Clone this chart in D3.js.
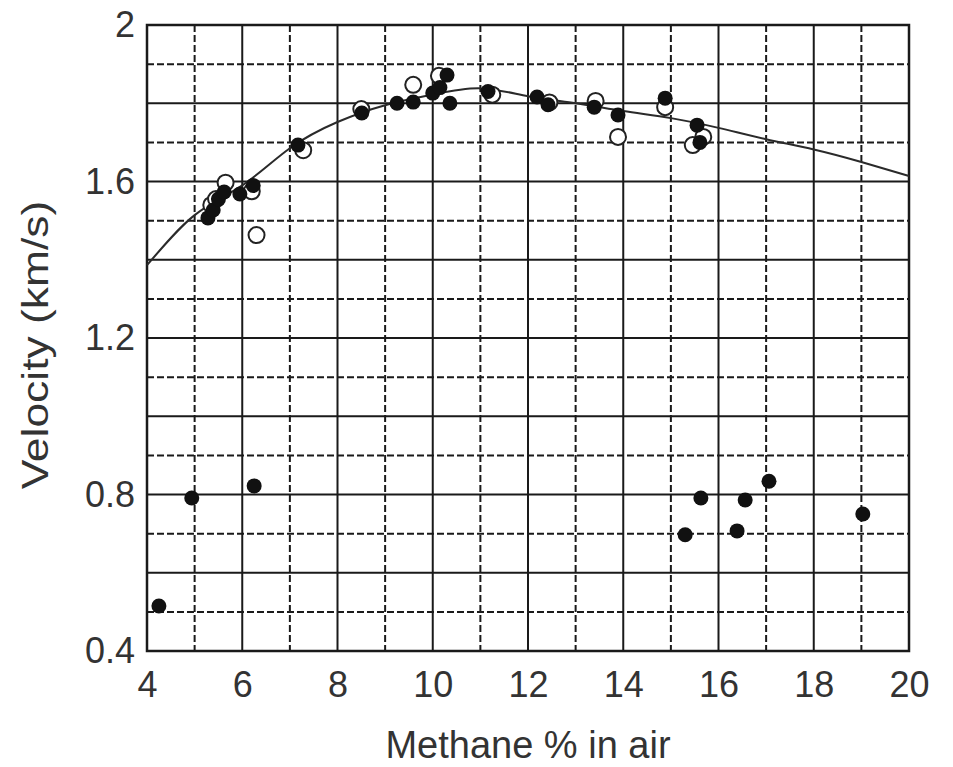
<!DOCTYPE html>
<html>
<head>
<meta charset="utf-8">
<script src="https://cdn.jsdelivr.net/npm/d3@7"></script>
<style>
  body { margin: 0; background: #fff; }
  text { font-family: "Liberation Sans", Arial, sans-serif; fill: #333; }
</style>
</head>
<body>
<div class="canvas"></div>
<script>
// fitted curve
const fitX = [4, 5, 6, 7, 8, 9, 10, 11, 12, 13, 14, 15, 16, 17, 18, 19, 20]
const fitY = [1.386, 1.514, 1.59, 1.685, 1.752, 1.795, 1.822, 1.838, 1.818, 1.80, 1.78, 1.762, 1.737, 1.708, 1.682, 1.65, 1.614]

// filled circles
const solidX = [4.25, 4.94, 6.25, 15.30, 15.63, 16.39, 16.56, 17.06, 19.03,
  5.28, 5.39, 5.5, 5.62, 5.95, 6.23, 7.17, 8.51, 9.25, 9.59, 10.0, 10.15, 10.3, 10.36, 11.16,
  12.19, 12.42, 13.39, 13.89, 14.88, 15.55, 15.61]
const solidY = [0.515, 0.791, 0.822, 0.697, 0.791, 0.707, 0.786, 0.834, 0.750,
  1.507, 1.527, 1.555, 1.573, 1.568, 1.59, 1.693, 1.775, 1.80, 1.803, 1.826, 1.84, 1.872, 1.80, 1.83,
  1.816, 1.796, 1.79, 1.77, 1.813, 1.744, 1.70]

// open circles
const openX = [5.35, 5.45, 5.65, 6.2, 6.3, 7.28, 8.5, 9.59, 10.13, 11.25, 12.45, 13.42, 13.89, 14.88, 15.46, 15.68]
const openY = [1.54, 1.555, 1.597, 1.575, 1.463, 1.68, 1.785, 1.847, 1.87, 1.822, 1.802, 1.806, 1.714, 1.79, 1.693, 1.714]

const xTicks = [4, 6, 8, 10, 12, 14, 16, 18, 20]
const yTicks = [0.4, 0.8, 1.2, 1.6, 2]

const width = 953, height = 767
const margin = {top: 25, right: 44, bottom: 116, left: 147}

const svg = d3.select('.canvas')
  .append('svg')
  .attr('width', width)
  .attr('height', height)

svg.append('rect').attr('width', width).attr('height', height).attr('fill', '#fff')

const graphWidth = width - margin.left - margin.right
const graphHeight = height - margin.top - margin.bottom

const graph = svg.append('g')
  .attr('transform', `translate(${margin.left}, ${margin.top})`)

const x = d3.scaleLinear().domain([4, 20]).range([0, graphWidth])
const y = d3.scaleLinear().domain([0.4, 2]).range([graphHeight, 0])

// grid: even x solid, odd dashed; y every 0.1, 0.2 multiples solid
const gx = d3.range(5, 20)
graph.selectAll('.vgrid')
  .data(gx)
  .enter().append('line')
  .attr('x1', d => x(d)).attr('x2', d => x(d))
  .attr('y1', 0).attr('y2', graphHeight)
  .attr('stroke', '#1a1a1a')
  .attr('stroke-width', 2)
  .attr('stroke-dasharray', d => d % 2 ? '7,3' : null)

const gy = d3.range(5, 20).map(d => d / 10)
graph.selectAll('.hgrid')
  .data(gy)
  .enter().append('line')
  .attr('x1', 0).attr('x2', graphWidth)
  .attr('y1', d => y(d)).attr('y2', d => y(d))
  .attr('stroke', '#1a1a1a')
  .attr('stroke-width', 2)
  .attr('stroke-dasharray', (d, i) => i % 2 === 0 ? '7,3' : null)

// frame
graph.append('rect')
  .attr('width', graphWidth).attr('height', graphHeight)
  .attr('fill', 'none').attr('stroke', '#1a1a1a').attr('stroke-width', 2.5)

// curve
const line = d3.line()
  .x(d => x(d[0])).y(d => y(d[1]))
  .curve(d3.curveNatural)
graph.append('path')
  .datum(d3.zip(fitX, fitY))
  .attr('d', line)
  .attr('fill', 'none')
  .attr('stroke', '#2a2a2a')
  .attr('stroke-width', 2)

// open markers under filled ones
graph.selectAll('.open')
  .data(d3.zip(openX, openY))
  .enter().append('circle')
  .attr('cx', d => x(d[0])).attr('cy', d => y(d[1]))
  .attr('r', 8)
  .attr('fill', '#fff')
  .attr('stroke', '#222')
  .attr('stroke-width', 2)

graph.selectAll('.solid')
  .data(d3.zip(solidX, solidY))
  .enter().append('circle')
  .attr('cx', d => x(d[0])).attr('cy', d => y(d[1]))
  .attr('r', 7.5)
  .attr('fill', '#111')

// axes
const xAxis = d3.axisBottom(x).tickValues(xTicks).tickSize(0).tickPadding(20)
const yAxis = d3.axisLeft(y).tickValues(yTicks).tickSize(0).tickPadding(12)
  .tickFormat(d => d)

const xAxisGroup = graph.append('g')
  .attr('transform', `translate(0, ${graphHeight})`)
  .call(xAxis)
const yAxisGroup = graph.append('g').call(yAxis)

xAxisGroup.select('.domain').remove()
yAxisGroup.select('.domain').remove()
svg.selectAll('.tick text')
  .attr('font-size', 36)
  .style('font-family', '"Liberation Sans", Arial, sans-serif')
  .attr('fill', '#333')

// titles
svg.append('text')
  .attr('x', margin.left + graphWidth / 2)
  .attr('y', 758)
  .attr('text-anchor', 'middle')
  .attr('font-size', 38)
  .text('Methane % in air')

// y title is drawn a bit stretched along its length, as in the picture
svg.append('text')
  .attr('transform', 'translate(48, 345) rotate(-90) scale(1.2, 1)')
  .attr('text-anchor', 'middle')
  .attr('font-size', 37)
  .text('Velocity (km/s)')
</script>
</body>
</html>
